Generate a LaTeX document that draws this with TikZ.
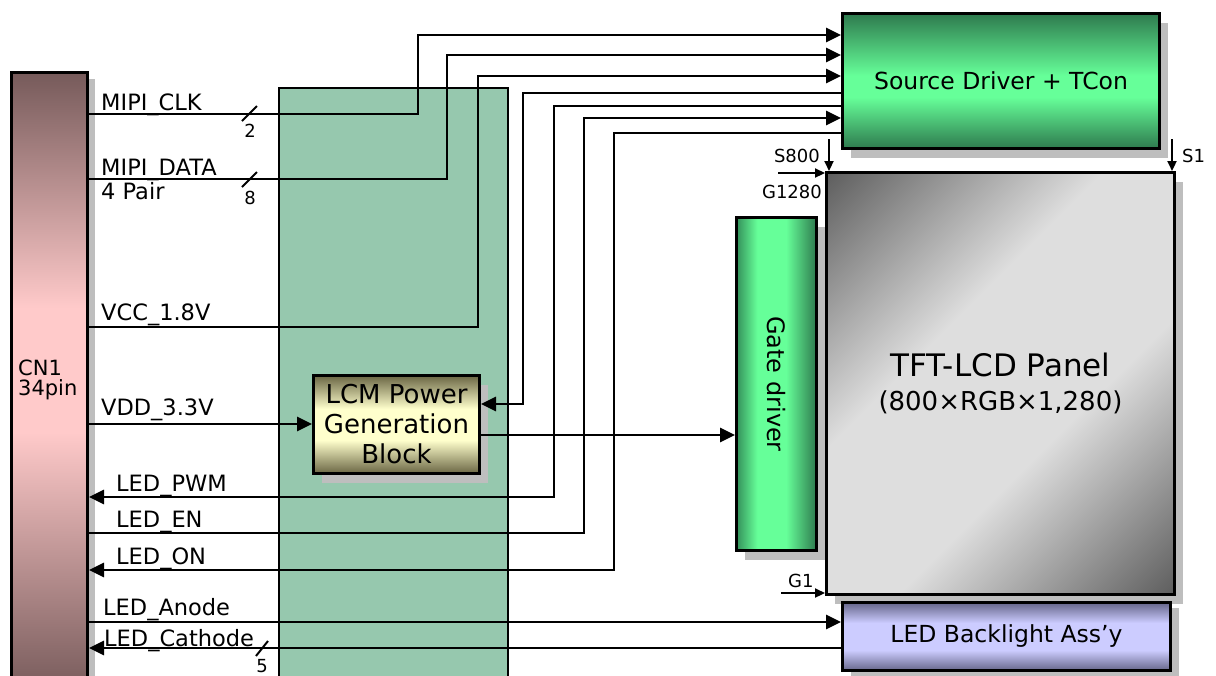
\documentclass[tikz,border=0pt]{standalone}
\usepackage{fontspec}
\setmainfont{DejaVu Sans}
\usetikzlibrary{arrows.meta,shadows}
\definecolor{midgreen}{HTML}{96C8AE}
\definecolor{shadowgray}{HTML}{BEBEBE}
\definecolor{cndark}{HTML}{765A5A}
\definecolor{cnlight}{HTML}{FFCACA}
\definecolor{sddark}{HTML}{2E7A4E}
\definecolor{sdlight}{HTML}{66FF99}
\definecolor{gdleft}{HTML}{34915A}
\definecolor{lcmdark}{HTML}{6A6644}
\definecolor{lcmlight}{HTML}{FFFFCC}
\definecolor{bldark}{HTML}{66668A}
\definecolor{bllight}{HTML}{CCCCFF}
\definecolor{pdark}{HTML}{606060}
\definecolor{plight}{HTML}{DEDEDE}
\pgfdeclareverticalshading{cnshade}{100bp}{color(0bp)=(cndark); color(25bp)=(cndark); color(46bp)=(cnlight); color(56bp)=(cnlight); color(75bp)=(cndark); color(100bp)=(cndark)}
\pgfdeclareverticalshading{sdshade}{100bp}{color(0bp)=(sddark); color(25bp)=(sddark); color(44bp)=(sdlight); color(52bp)=(sdlight); color(75bp)=(sddark); color(100bp)=(sddark)}
\pgfdeclarehorizontalshading{gdshade}{100bp}{color(0bp)=(gdleft); color(25bp)=(gdleft); color(38bp)=(sdlight); color(56bp)=(sdlight); color(75bp)=(sddark); color(100bp)=(sddark)}
\pgfdeclareverticalshading{lcmshade}{100bp}{color(0bp)=(lcmdark); color(25bp)=(lcmdark); color(42bp)=(lcmlight); color(58bp)=(lcmlight); color(75bp)=(lcmdark); color(100bp)=(lcmdark)}
\pgfdeclareverticalshading{blshade}{100bp}{color(0bp)=(bldark); color(25bp)=(bldark); color(40bp)=(bllight); color(60bp)=(bllight); color(75bp)=(bldark); color(100bp)=(bldark)}
\pgfdeclarehorizontalshading{panelshade}{100bp}{color(0bp)=(pdark); color(15bp)=(pdark); color(40bp)=(plight); color(60bp)=(plight); color(85bp)=(pdark); color(100bp)=(pdark)}
\tikzset{
  box/.style={draw=black, line width=3pt, inner sep=0pt, anchor=north west},
  shadowed/.style={drop shadow={shadow xshift=8pt, shadow yshift=-9pt, fill=shadowgray, opacity=1}},
  sig/.style={line width=2.8pt},
  arr/.style={sig, -{Triangle[length=15pt,width=14pt]}},
  sarr/.style={line width=2.2pt, -{Triangle[length=10pt,width=9pt]}},
  lbl/.style={font=\fontsize{22.5}{26}\selectfont, inner sep=0pt, anchor=base west},
  smalllbl/.style={font=\fontsize{18}{20}\selectfont, inner sep=0pt},
  slash/.style={line width=2pt},
}
\begin{document}
\begin{tikzpicture}[x=1pt,y=-1pt]
\useasboundingbox (0,0) rectangle (1216,675);
\begin{scope}
\clip (0,0) rectangle (1216,675);
% blocks
\node[box, fill=midgreen, line width=2pt, minimum width=229pt, minimum height=620pt] (mid) at (278,87) {};
\node[box, shading=cnshade, drop shadow={shadow xshift=7pt, shadow yshift=-6pt, fill=shadowgray, opacity=1}, minimum width=76pt, minimum height=620pt] (cn1) at (10,71) {};
\node[box, shadowed, shading=sdshade, minimum width=317pt, minimum height=135pt, font=\fontsize{23.5}{28}\selectfont] (sd) at (841,12) {Source Driver + TCon};
\node[box, shadowed, shading=panelshade, shading angle=-45, minimum width=348pt, minimum height=422pt, align=center, font=\fontsize{26}{34}\selectfont] (panel) at (825,171) {{\fontsize{31}{34}\selectfont TFT-LCD Panel}\\(800×RGB×1,280)};
\node[box, shadowed, shading=gdshade, minimum width=80pt, minimum height=333pt] (gd) at (735,216) {};
\node[rotate=-90, font=\fontsize{24}{28}\selectfont, inner sep=0pt] (gdtext) at (gd.center) {Gate driver};
\node[box, shadowed, shading=lcmshade, minimum width=166pt, minimum height=98pt, align=center, font=\fontsize{26}{30}\selectfont] (lcm) at (312,374) {LCM Power\\Generation\\Block};
\node[box, drop shadow={shadow xshift=8pt, shadow yshift=-5pt, fill=shadowgray, opacity=1}, shading=blshade, minimum width=328pt, minimum height=68pt, font=\fontsize{23.5}{28}\selectfont] (bl) at (841,601) {LED Backlight Ass’y};
% bend coordinates
\coordinate (kClk) at (418,35);
\coordinate (kData) at (447,55);
\coordinate (kVcc) at (478,76);
\coordinate (kLcm) at (523,93);
\coordinate (kPwm) at (554,106);
\coordinate (kEn) at (584,118);
\coordinate (kOn) at (614,133);
% signals
\draw[arr] (cn1.east |- 0,114) -| (kClk) -- (sd.west |- kClk);
\draw[arr] (cn1.east |- 0,179) -| (kData) -- (sd.west |- kData);
\draw[arr] (cn1.east |- 0,327) -| (kVcc) -- (sd.west |- kVcc);
\draw[arr] (sd.west |- kLcm) -- (kLcm) |- (lcm.east |- 0,404);
\draw[arr] (sd.west |- kPwm) -- (kPwm) |- (cn1.east |- 0,497);
\draw[arr] (cn1.east |- 0,533) -| (kEn) -- (sd.west |- kEn);
\draw[arr] (sd.west |- kOn) -- (kOn) |- (cn1.east |- 0,570);
\draw[arr] (cn1.east |- 0,424) -- (lcm.west |- 0,424);
\draw[arr] (lcm.east |- 0,435) -- (gd.west |- 0,435);
\draw[arr] (cn1.east |- 0,622) -- (bl.west |- 0,622);
\draw[arr] (bl.west |- 0,648) -- (cn1.east |- 0,648);
% panel scan arrows
\coordinate (sA) at (829,139);
\coordinate (sB) at (1172,139);
\coordinate (gA) at (778,173);
\coordinate (gB) at (781,593);
\draw[sarr] (sA) -- (sA |- panel.north);
\draw[sarr] (sB) -- (sB |- panel.north);
\draw[sarr] (gA) -- (gA -| panel.west);
\draw[sarr] (gB) -- (gB -| panel.west);
% bus slashes
\draw[slash] (242,121) -- (257,106);
\draw[slash] (242,187) -- (257,172);
\draw[slash] (256,656) -- (268,641);
% labels
\node[lbl] (lClk) at (101,110) {MIPI\_CLK};
\node[lbl] (lData) at (101,175) {MIPI\_DATA};
\node[lbl] (lPair) at (101,199) {4 Pair};
\node[lbl] (lVcc) at (101,320) {VCC\_1.8V};
\node[lbl] (lVdd) at (101,415) {VDD\_3.3V};
\node[lbl] (lPwm) at (116,491) {LED\_PWM};
\node[lbl] (lEn) at (116,527) {LED\_EN};
\node[lbl] (lOn) at (116,564) {LED\_ON};
\node[lbl] (lAn) at (103,615) {LED\_Anode};
\node[lbl] (lCa) at (104,646) {LED\_Cathode};
\node[lbl, font=\fontsize{21}{24}\selectfont] (lCn) at (18,375) {CN1};
\node[lbl, font=\fontsize{21}{24}\selectfont] (lPin) at (18,395) {34pin};
\node[smalllbl, anchor=base] (n2) at (250,137) {2};
\node[smalllbl, anchor=base] (n8) at (250,204) {8};
\node[smalllbl, anchor=base] (n5) at (262,672) {5};
\node[smalllbl, anchor=base east] (lS800) at (820,162) {S800};
\node[smalllbl, anchor=base west] (lS1) at (1182,162) {S1};
\node[smalllbl, anchor=base east] (lG1280) at (822,198) {G1280};
\node[smalllbl, anchor=base west] (lG1) at (788,587) {G1};
\end{scope}
\end{tikzpicture}
\end{document}
